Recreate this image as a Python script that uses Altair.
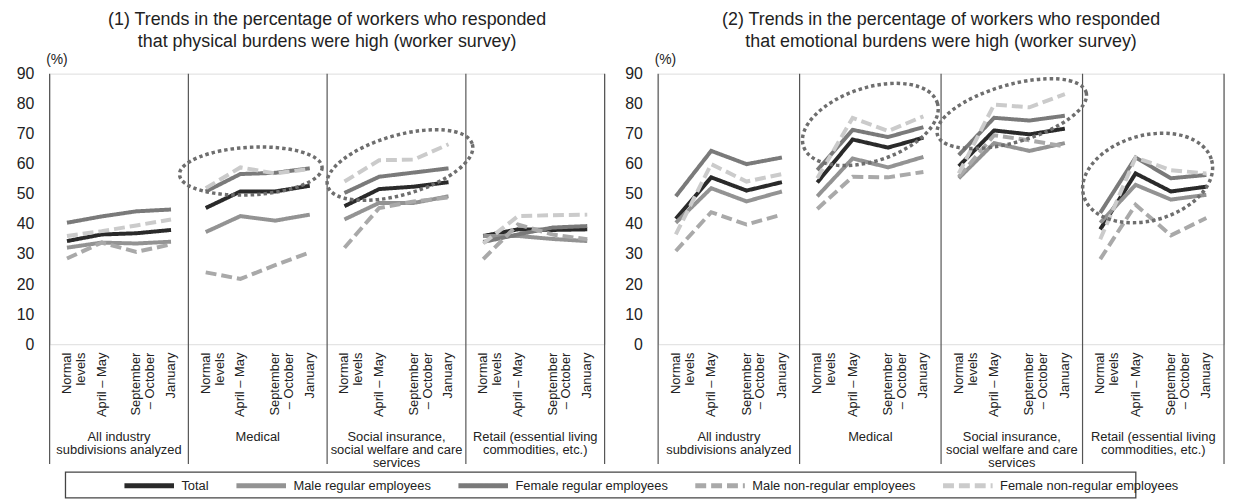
import altair as alt
import pandas as pd

FONT = "Liberation Sans"

GROUPS = [
    "All industry\nsubdivisions analyzed",
    "Medical",
    "Social insurance,\nsocial welfare and care\nservices",
    "Retail (essential living\ncommodities, etc.)",
]
PERIODS = ["Normal\nlevels", "April – May", "September\n– October", "January"]
SERIES = [
    "Total",
    "Male regular employees",
    "Female regular employees",
    "Male non-regular employees",
    "Female non-regular employees",
]
COLORS = ["#2a2a2a", "#939393", "#7a7a7a", "#a9a9a9", "#cbcbcb"]
DASHES = [[1, 0], [1, 0], [1, 0], [11, 5], [11, 5]]

TITLE_1 = ["(1) Trends in the percentage of workers who responded",
           "that physical burdens were high (worker survey)"]
TITLE_2 = ["(2) Trends in the percentage of workers who responded",
           "that emotional burdens were high (worker survey)"]

# values per series: 4 groups x 4 periods (All industry, Medical, Social insurance, Retail)
PHYS_TOTAL = [34.3, 36.5, 36.9, 38.0, 45.3, 50.8, 50.8, 52.7, 45.9, 51.6, 52.4, 53.9, 36.0, 38.2, 38.0, 38.2]
PHYS_MALE_REG = [32.1, 33.8, 33.5, 34.1, 37.3, 42.6, 41.1, 43.1, 41.5, 47.0, 47.0, 49.2, 36.0, 36.0, 35.0, 34.3]
PHYS_FEMALE_REG = [40.4, 42.5, 44.2, 44.8, 50.8, 56.6, 57.0, 58.5, 50.3, 55.7, 57.1, 58.5, 34.0, 36.5, 38.8, 39.3]
PHYS_MALE_NONREG = [28.5, 33.8, 30.7, 33.2, 23.9, 21.7, 26.3, 30.5, 32.1, 45.3, 47.5, 48.8, 28.3, 39.8, 36.5, 34.9]
PHYS_FEMALE_NONREG = [36.0, 37.6, 39.5, 41.5, 51.9, 58.8, 56.8, 58.3, 54.1, 61.2, 61.4, 66.5, 33.5, 42.6, 42.9, 43.1]

EMO_TOTAL = [41.7, 55.5, 51.1, 53.9, 53.8, 68.1, 65.4, 68.7, 59.2, 71.1, 69.8, 71.7, 38.2, 56.8, 50.8, 52.4]
EMO_MALE_REG = [40.4, 51.9, 47.5, 50.8, 49.2, 61.8, 58.8, 62.3, 55.2, 66.9, 64.3, 66.9, 40.4, 53.0, 48.1, 49.7]
EMO_FEMALE_REG = [49.2, 64.3, 59.9, 62.1, 57.9, 71.3, 68.9, 72.2, 62.9, 75.3, 74.4, 76.0, 43.7, 62.1, 55.2, 56.3]
EMO_MALE_NONREG = [31.0, 43.9, 39.8, 43.1, 45.0, 55.7, 55.5, 57.3, 55.7, 69.5, 67.8, 65.8, 28.3, 46.4, 36.2, 42.0]
EMO_FEMALE_NONREG = [36.5, 59.9, 54.1, 56.6, 55.2, 75.3, 70.9, 75.8, 56.8, 79.7, 78.8, 83.2, 34.9, 62.1, 57.9, 56.8]

# dotted highlight ellipses: (group index, period index, position in band, centre value, semi-axes px, tilt)
ELLIPSES_1 = [(1, 1, 0.8, 57.6, 72, 24, 357), (2, 2, 0.1, 59.6, 76, 30, 344)]
ELLIPSES_2 = [(1, 2, 0.0, 73.1, 71, 37, 342), (2, 2, 0.0, 76.7, 78, 29, 344), (3, 1, 0.84, 55.3, 67, 43, 344.5)]

KEYS = [f"{gi}|{p}" for gi in range(len(GROUPS)) for p in PERIODS]
H = 273
W1, W2 = 560, 571
GAP = 54


def long_df(series_values):
    rows = []
    for s, vals in zip(SERIES, series_values):
        for gi, g in enumerate(GROUPS):
            for pi, p in enumerate(PERIODS):
                rows.append({"key": f"{gi}|{p}", "group": g, "series": s, "value": vals[gi * 4 + pi]})
    return pd.DataFrame(rows)


def ellipse_path(ratio):
    k = 0.5523
    r = ratio
    return (f"M 1 0 C 1 {k*r:.4f} {k:.4f} {r:.4f} 0 {r:.4f} "
            f"C {-k:.4f} {r:.4f} -1 {k*r:.4f} -1 0 "
            f"C -1 {-k*r:.4f} {-k:.4f} {-r:.4f} 0 {-r:.4f} "
            f"C {k:.4f} {-r:.4f} 1 {-k*r:.4f} 1 0 Z")


def panel(df, title, width, ellipses, with_legend):
    xscale = alt.Scale(domain=KEYS, paddingInner=0, paddingOuter=0)
    xaxis = alt.Axis(title=None, labelExpr="split(split(datum.value, '|')[1], '\\n')",
                     labelAngle=270, labelAlign="right", labelBaseline="middle",
                     labelPadding=8, labelFontSize=13, labelLineHeight=14,
                     ticks=False, domain=False, labelColor="#222", labelOverlap=False,
                     labelFont=FONT)
    yscale = alt.Scale(domain=[0, 90], nice=False)
    yaxis = alt.Axis(values=list(range(0, 91, 10)), title="(%)", titleAngle=0,
                     titleAlign="left", titleBaseline="bottom", titleX=-4, titleY=-7,
                     titleFontSize=14, titleFontWeight="normal", titleColor="#222",
                     titleFont=FONT, grid=False, ticks=False, domain=False,
                     labelPadding=16, labelFontSize=16, labelColor="#222", labelFont=FONT)

    def X(bp=0.5):
        return alt.X("key:N", scale=xscale, axis=xaxis, bandPosition=bp)

    if with_legend:
        leg = alt.Legend(orient="none", legendX=73, legendY=388, direction="horizontal",
                         title=None, symbolType="stroke", symbolSize=2500, symbolStrokeWidth=5,
                         labelFontSize=13, labelFont=FONT, labelColor="#222", labelOffset=5,
                         labelLimit=400, columnPadding=17, padding=0, columns=5)
    else:
        leg = None

    lines = alt.Chart(df).mark_line(strokeWidth=4, strokeCap="butt").encode(
        x=X(),
        y=alt.Y("value:Q", scale=yscale, axis=yaxis),
        color=alt.Color("series:N", scale=alt.Scale(domain=SERIES, range=COLORS), legend=leg),
        strokeDash=alt.StrokeDash("series:N", scale=alt.Scale(domain=SERIES, range=DASHES), legend=leg),
        detail="group:N",
    )

    starts = pd.DataFrame({"key": [f"{gi}|{PERIODS[0]}" for gi in range(len(GROUPS))]})
    rules = alt.Chart(starts).mark_rule(color="#555", strokeWidth=1.2).encode(
        x=X(0), y=alt.value(0), y2=alt.value(H + 121))
    end = pd.DataFrame({"key": [KEYS[-1]]})
    right = alt.Chart(end).mark_rule(color="#555", strokeWidth=1.2).encode(
        x=X(1), y=alt.value(0), y2=alt.value(H + 121))

    labels = pd.DataFrame({"key": [f"{gi}|{PERIODS[2]}" for gi in range(len(GROUPS))],
                           "label": GROUPS})
    glabels = alt.Chart(labels).mark_text(lineBreak="\n", baseline="top", fontSize=13,
                                          lineHeight=13, color="#222", font=FONT).encode(
        x=X(0), y=alt.value(H + 88), text="label:N")

    layers = [lines, rules, right, glabels]
    for gi, pi, bp, yc, a, b, ang in ellipses:
        edf = pd.DataFrame({"key": [f"{gi}|{PERIODS[pi]}"], "value": [yc]})
        layers.append(
            alt.Chart(edf).mark_point(shape=ellipse_path(b / a), size=4 * a * a, angle=ang,
                                      filled=False, stroke="#6e6e6e", strokeWidth=3.5,
                                      strokeDash=[3.5, 3], opacity=1).encode(
                x=X(bp), y=alt.Y("value:Q", scale=yscale, axis=yaxis)))

    if with_legend:
        # frame around the legend, spanning both panels
        layers.append(
            alt.Chart(starts.head(1)).mark_rect(fill=None, stroke="#444", strokeWidth=1.3).encode(
                x=alt.value(16), x2=alt.value(W1 + GAP + W2 - 89),
                y=alt.value(H + 129), y2=alt.value(H + 155)))

    return alt.layer(*layers).properties(
        width=width, height=H,
        title=alt.Title(title, fontSize=18, fontWeight="normal", color="#222", font=FONT,
                        anchor="middle", lineHeight=22, offset=2))


phys = long_df([PHYS_TOTAL, PHYS_MALE_REG, PHYS_FEMALE_REG, PHYS_MALE_NONREG, PHYS_FEMALE_NONREG])
emo = long_df([EMO_TOTAL, EMO_MALE_REG, EMO_FEMALE_REG, EMO_MALE_NONREG, EMO_FEMALE_NONREG])

p1 = panel(phys, TITLE_1, W1, ELLIPSES_1, True)
p2 = panel(emo, TITLE_2, W2, ELLIPSES_2, False)

chart = alt.hconcat(p1, p2, spacing=GAP, bounds="flush").resolve_scale(
    color="independent", strokeDash="independent"
).properties(
    padding={"left": 7, "top": 0, "right": 0, "bottom": 0}
).configure_view(stroke="#555", strokeWidth=1.2).configure(background="white")

chart.save("out.html", embed_options={"renderer": "svg", "actions": False})
